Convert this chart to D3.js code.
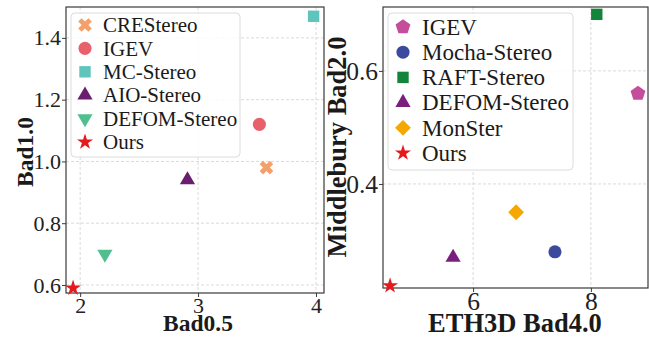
<!DOCTYPE html>
<html>
<head>
<meta charset="utf-8" />
<title>stereo scatter</title>
<script src="https://cdn.jsdelivr.net/npm/d3@7"></script>
<style>
  body { margin: 0; background: #fff; }
  svg { display: block; font-family: "Liberation Serif", "Times New Roman", serif; }
  .grid line { stroke: #d0d0d0; stroke-width: 0.8px; stroke-dasharray: 3,2; }
  .frame { fill: none; stroke: #3a3a3a; stroke-width: 1.2px; }
  .axis path { display: none; }
  .axis line { stroke: #3a3a3a; }
</style>
</head>
<body>
<svg width="649" height="337"></svg>
<script>
// left panel data
var leftMethods = ["CREStereo", "IGEV", "MC-Stereo", "AIO-Stereo", "DEFOM-Stereo", "Ours"];
var leftBad05 = [3.58, 3.52, 3.98, 2.91, 2.21, 1.94];
var leftBad10 = [0.98, 1.12, 1.47, 0.94, 0.70, 0.59];
var leftXTicks = [2, 3, 4];
var leftYTicks = [0.6, 0.8, 1.0, 1.2, 1.4];

// right panel data
var rightMethods = ["IGEV", "Mocha-Stereo", "RAFT-Stereo", "DEFOM-Stereo", "MonSter", "Ours"];
var rightEth3d = [8.80, 7.39, 8.10, 5.66, 6.73, 4.59];
var rightMidd = [0.56, 0.28, 0.70, 0.27, 0.35, 0.22];
var rightXTicks = [6, 8];
var rightYTicks = [0.4, 0.6];

var serif = '"Liberation Serif", "Times New Roman", serif';
var svg = d3.select("svg");

// pentagon path, r = outer radius
function pentagon(r) {
  var pts = d3.range(5).map(function(i) {
    var a = -Math.PI / 2 + i * 2 * Math.PI / 5;
    return [r * Math.cos(a), r * Math.sin(a)];
  });
  return "M" + pts.join("L") + "Z";
}

var markers = {
  "x":    { path: d3.symbol(d3.symbolCross, 115)(), rot: 45 },
  "o":    { path: d3.symbol(d3.symbolCircle, 135)(), rot: 0 },
  "s":    { path: d3.symbol(d3.symbolSquare, 130)(), rot: 0 },
  "^":    { path: d3.symbol(d3.symbolTriangle, 100)(), rot: 0 },
  "v":    { path: d3.symbol(d3.symbolTriangle, 100)(), rot: 180 },
  "*":    { path: d3.symbol(d3.symbolStar, 80)(), rot: 0 },
  "p":    { path: pentagon(7.8), rot: 0 },
  "D":    { path: d3.symbol(d3.symbolSquare, 125)(), rot: 45 }
};

function drawPanel(cfg) {
  var x = d3.scaleLinear().domain(cfg.xDomain).range([cfg.left, cfg.right]);
  var y = d3.scaleLinear().domain(cfg.yDomain).range([cfg.bottom, cfg.top]);
  var g = svg.append("g");

  // grid
  var grid = g.append("g").attr("class", "grid");
  grid.selectAll(".gx").data(cfg.xTicks).enter().append("line")
    .attr("x1", function(d) { return x(d); }).attr("x2", function(d) { return x(d); })
    .attr("y1", cfg.top).attr("y2", cfg.bottom);
  grid.selectAll(".gy").data(cfg.yTicks).enter().append("line")
    .attr("y1", function(d) { return y(d); }).attr("y2", function(d) { return y(d); })
    .attr("x1", cfg.left).attr("x2", cfg.right);

  // axes
  var ax = g.append("g").attr("class", "axis")
    .attr("transform", "translate(0," + cfg.bottom + ")")
    .call(d3.axisBottom(x).tickValues(cfg.xTicks).tickSize(4).tickPadding(0).tickFormat(d3.format("d")));
  var ay = g.append("g").attr("class", "axis")
    .attr("transform", "translate(" + cfg.left + ",0)")
    .call(d3.axisLeft(y).tickValues(cfg.yTicks).tickSize(4).tickPadding(1).tickFormat(d3.format(".1f")));
  [ax, ay].forEach(function(a) {
    a.attr("font-family", serif);
    a.selectAll("text")
      .attr("font-family", serif)
      .style("font-family", serif)
      .style("font-size", cfg.tickFont + "px")
      .style("fill", "#222");
  });

  g.append("rect").attr("class", "frame")
    .attr("x", cfg.left).attr("y", cfg.top)
    .attr("width", cfg.right - cfg.left).attr("height", cfg.bottom - cfg.top);

  // legend box
  g.append("rect")
    .attr("x", cfg.legend.x).attr("y", cfg.legend.y)
    .attr("width", cfg.legend.w).attr("height", cfg.legend.h)
    .attr("rx", 4)
    .style("fill", "rgba(255,255,255,0.85)").style("stroke", "#dcdcdc");

  var items = cfg.names.map(function(n, i) {
    return { name: n, xv: cfg.xs[i], yv: cfg.ys[i], color: cfg.colors[i], m: markers[cfg.shapes[i]] };
  });

  var leg = g.selectAll(".leg").data(items).enter().append("g")
    .attr("transform", function(d, i) {
      return "translate(" + cfg.legend.mx + "," + (cfg.legend.y0 + i * cfg.legend.dy) + ")";
    });
  leg.append("path")
    .attr("d", function(d) { return d.m.path; })
    .attr("transform", function(d) { return "rotate(" + d.m.rot + ")"; })
    .style("fill", function(d) { return d.color; });
  leg.append("text")
    .attr("x", cfg.legend.tx - cfg.legend.mx)
    .attr("dy", "0.34em")
    .style("font-size", cfg.legFont + "px")
    .style("fill", "#1a1a1a")
    .text(function(d) { return d.name; });

  // points
  g.selectAll(".pt").data(items).enter().append("path")
    .attr("d", function(d) { return d.m.path; })
    .attr("transform", function(d) {
      return "translate(" + x(d.xv) + "," + y(d.yv) + ") rotate(" + d.m.rot + ")";
    })
    .style("fill", function(d) { return d.color; });

  // axis titles
  g.append("text")
    .attr("x", cfg.xLabel.x).attr("y", cfg.xLabel.y)
    .attr("text-anchor", "middle")
    .style("font-weight", "bold").style("font-size", cfg.labFont + "px").style("fill", "#1a1a1a")
    .text(cfg.xLabel.text);
  g.append("text")
    .attr("transform", "translate(" + cfg.yLabel.x + "," + cfg.yLabel.y + ") rotate(-90)")
    .attr("text-anchor", "middle")
    .style("font-weight", "bold").style("font-size", cfg.labFont + "px").style("fill", "#1a1a1a")
    .text(cfg.yLabel.text);
}

drawPanel({
  left: 66, right: 324, top: 7, bottom: 293,
  xDomain: [1.88, 4.068], yDomain: [0.574, 1.5],
  xTicks: leftXTicks, yTicks: leftYTicks,
  names: leftMethods, xs: leftBad05, ys: leftBad10,
  colors: ["#f4a06b", "#e8606a", "#5fc4bc", "#6a1f6e", "#4fbf8f", "#e41a1c"],
  shapes: ["x", "o", "s", "^", "v", "*"],
  tickFont: 22, legFont: 21, labFont: 23.5,
  legend: { x: 71, y: 13, w: 169, h: 144, mx: 85, tx: 103, y0: 25, dy: 23.4 },
  xLabel: { x: 198, y: 331, text: "Bad0.5" },
  yLabel: { x: 33, y: 152, text: "Bad1.0" }
});

drawPanel({
  left: 383, right: 648, top: 7, bottom: 288,
  xDomain: [4.47, 8.97], yDomain: [0.216, 0.713],
  xTicks: rightXTicks, yTicks: rightYTicks,
  names: rightMethods, xs: rightEth3d, ys: rightMidd,
  colors: ["#c44e9c", "#3b4a9c", "#13843b", "#7b1f7f", "#f5a800", "#e41a1c"],
  shapes: ["p", "o", "s", "^", "D", "*"],
  tickFont: 25.5, legFont: 23, labFont: 26.5,
  legend: { x: 388, y: 13, w: 185, h: 157, mx: 403, tx: 422, y0: 27, dy: 25.2 },
  xLabel: { x: 515, y: 332, text: "ETH3D Bad4.0" },
  yLabel: { x: 346, y: 147, text: "Middlebury Bad2.0" }
});
</script>
</body>
</html>
